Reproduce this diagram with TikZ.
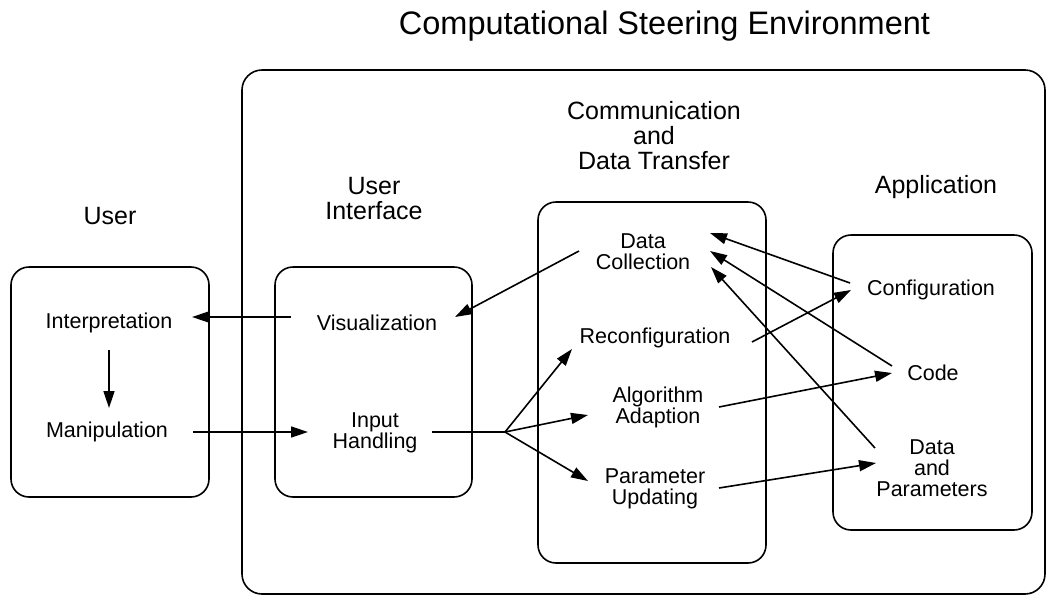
\documentclass[tikz,border=0pt]{standalone}
\usepackage{fontspec}
\setmainfont{Liberation Sans}
\usetikzlibrary{arrows.meta}
\begin{document}
\begin{tikzpicture}[x=1pt,y=-1pt,
  box/.style={draw, line width=1.6pt, rounded corners=18pt, inner sep=0pt},
  lbl/.style={inner sep=0pt, align=center, font=\fontsize{21.5}{21}\selectfont},
  head/.style={inner sep=0pt, align=center, font=\fontsize{25}{25}\selectfont},
  conn/.style={line width=1.6pt, -{Triangle[length=17pt,width=11pt]}},
  plain/.style={line width=1.6pt}]
\useasboundingbox (0,0) rectangle (1052,595);

% title
\node[inner sep=0pt, font=\fontsize{32.5}{32.5}\selectfont] (title) at (664.5,26.5) {Computational Steering Environment};

% boxes
\node[box, minimum width=803pt, minimum height=524pt, rounded corners=20pt] (env) at (643.5,332) {};
\node[box, minimum width=198pt, minimum height=230pt] (userbox) at (110,382) {};
\node[box, minimum width=197pt, minimum height=230pt] (uibox) at (373.5,382) {};
\node[box, minimum width=228pt, minimum height=361pt] (cdtbox) at (652,382.5) {};
\node[box, minimum width=199pt, minimum height=295pt] (appbox) at (932.5,382.5) {};

% headings
\node[head] (huser) at (110,216) {User};
\node[head] (hui) at (374,199) {User\\Interface};
\node[head] (hcdt) at (654,136) {Communication\\and\\Data Transfer};
\node[head] (happ) at (936,187) {Application};

% labels
\node[lbl] (interp) at (109,323) {Interpretation};
\node[lbl] (manip) at (107,432) {Manipulation};
\node[lbl] (vis) at (377,323) {Visualization};
\node[lbl] (input) at (375,433) {Input\\Handling};
\node[lbl] (dc) at (643,252) {Data\\Collection};
\node[lbl] (recon) at (655,338) {Reconfiguration};
\node[lbl] (algo) at (658,407) {Algorithm\\Adaption};
\node[lbl] (param) at (655,489) {Parameter\\Updating};
\node[lbl] (config) at (931,290) {Configuration};
\node[lbl] (code) at (933,373) {Code};
\node[lbl] (dp) at (932,468) {Data\\and\\Parameters};

% connector end points
\coordinate (visL) at (291,317);
\coordinate (interpR) at (192,317);
\coordinate (interpB) at (109,350);
\coordinate (manipT) at (109,408);
\coordinate (manipR) at (193,432);
\coordinate (inputL) at (308,432);
\coordinate (inputR) at (432,432);
\coordinate (fork) at (505,432);
\coordinate (reconL) at (572,349);
\coordinate (algoL) at (588,415);
\coordinate (paramL) at (588,481);
\coordinate (dcL) at (579,251);
\coordinate (visR) at (455,317);
\coordinate (configL1) at (850,283);
\coordinate (dcR1) at (710,233);
\coordinate (codeL1) at (892,366);
\coordinate (dcR2) at (710,251);
\coordinate (dpL1) at (875,448);
\coordinate (dcR3) at (711,267);
\coordinate (reconR) at (752,342);
\coordinate (configL2) at (851,290);
\coordinate (algoR) at (719,407);
\coordinate (codeL2) at (892,373);
\coordinate (paramR) at (719,488);
\coordinate (dpL2) at (876,463);

% connectors
\draw[conn] (visL) -- (interpR);
\draw[conn] (interpB) -- (manipT);
\draw[conn] (manipR) -- (inputL);
\draw[plain] (inputR) -- (fork);
\draw[conn] (fork) -- (reconL);
\draw[conn] (fork) -- (algoL);
\draw[conn] (fork) -- (paramL);
\draw[conn] (dcL) -- (visR);
\draw[conn] (configL1) -- (dcR1);
\draw[conn] (codeL1) -- (dcR2);
\draw[conn] (dpL1) -- (dcR3);
\draw[conn] (reconR) -- (configL2);
\draw[conn] (algoR) -- (codeL2);
\draw[conn] (paramR) -- (dpL2);
\end{tikzpicture}
\end{document}
